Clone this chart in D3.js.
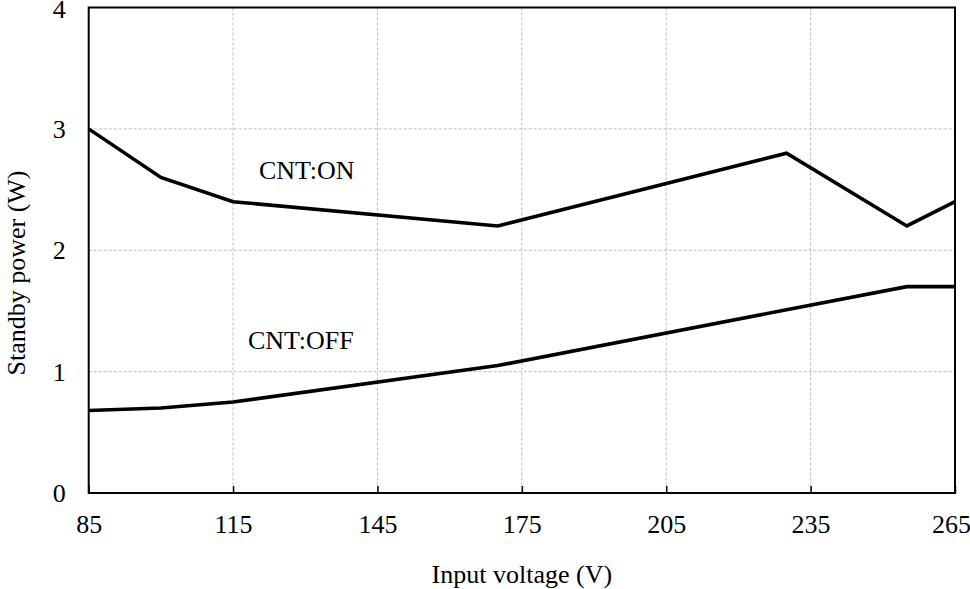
<!DOCTYPE html>
<html>
<head>
<meta charset="utf-8">
<script src="https://cdn.jsdelivr.net/npm/d3@7"></script>
<style>
  html, body { margin: 0; padding: 0; background: #fff; }
  svg { display: block; }
</style>
</head>
<body>
<svg id="chart" width="970" height="589"></svg>
<script>
// Standby power versus input voltage, with the CNT pin on and off
const volts = [85, 100, 115, 170, 230, 255, 265];
const wattsOn = [3.0, 2.6, 2.4, 2.2, 2.8, 2.2, 2.4];
const wattsOff = [0.68, 0.70, 0.75, 1.05, 1.51, 1.70, 1.70];
const xTicks = [85, 115, 145, 175, 205, 235, 265];
const yTicks = [0, 1, 2, 3, 4];
const seriesLabels = ["CNT:ON", "CNT:OFF"];
const xTitle = "Input voltage (V)";
const yTitle = "Standby power (W)";

const FONT = "'Liberation Serif', 'Times New Roman', Times, serif";

const svg = d3.select("#chart");
const m = { left: 88.7, right: 955, top: 7.5, bottom: 493 };

const x = d3.scaleLinear().domain([85, 265]).range([m.left, m.right]);
const y = d3.scaleLinear().domain([0, 4]).range([m.bottom, m.top]);

function styleText(sel) {
  return sel.style("font-family", FONT).style("font-size", "26px").attr("fill", "#000");
}

// dashed grid
const grid = svg.append("g")
  .attr("stroke", "#bdbdbd").attr("stroke-width", 1).attr("stroke-dasharray", "3,2");
grid.selectAll("line.v").data(xTicks.slice(1, -1)).join("line")
  .attr("x1", d => x(d)).attr("x2", d => x(d))
  .attr("y1", m.top).attr("y2", m.bottom);
grid.selectAll("line.h").data(yTicks.slice(1, -1)).join("line")
  .attr("x1", m.left).attr("x2", m.right)
  .attr("y1", d => y(d)).attr("y2", d => y(d));

// bottom axis: inward ticks
const xAxis = svg.append("g")
  .attr("transform", `translate(0,${m.bottom})`)
  .call(d3.axisBottom(x).tickValues(xTicks).tickSize(-7).tickPadding(0).tickFormat(d3.format("d")));
xAxis.select(".domain").remove();
xAxis.selectAll(".tick line").attr("stroke", "#000").attr("stroke-width", 1.5);
styleText(xAxis.selectAll(".tick text"))
  .attr("y", 40).attr("dy", 0)
  .attr("dx", d => d === 265 ? -4 : 0);

// left axis labels
const yAxis = svg.append("g")
  .attr("transform", `translate(${m.left},0)`)
  .call(d3.axisLeft(y).tickValues(yTicks).tickSize(0).tickPadding(23).tickFormat(d3.format("d")));
yAxis.select(".domain").remove();
styleText(yAxis.selectAll(".tick text"))
  .attr("dy", d => d === 4 ? "0.4em" : "0.33em");

// frame
svg.append("rect")
  .attr("x", m.left).attr("y", m.top)
  .attr("width", m.right - m.left).attr("height", m.bottom - m.top)
  .attr("fill", "none").attr("stroke", "#000").attr("stroke-width", 2);

// series
const line = d3.line().x((d, i) => x(volts[i])).y(d => y(d));
[wattsOn, wattsOff].forEach(vals => {
  svg.append("path")
    .attr("d", line(vals))
    .attr("fill", "none")
    .attr("stroke", "#000")
    .attr("stroke-width", 3.6)
    .attr("stroke-linejoin", "miter");
});

// series labels
styleText(svg.append("text").attr("x", 259).attr("y", 179)).text(seriesLabels[0]);
styleText(svg.append("text").attr("x", 248).attr("y", 349)).text(seriesLabels[1]);

// axis titles
styleText(svg.append("text")
  .attr("x", (m.left + m.right) / 2).attr("y", 583)
  .attr("text-anchor", "middle")).text(xTitle);
styleText(svg.append("text")
  .attr("transform", `translate(25,273) rotate(-90)`)
  .attr("text-anchor", "middle")).text(yTitle);
</script>
</body>
</html>
